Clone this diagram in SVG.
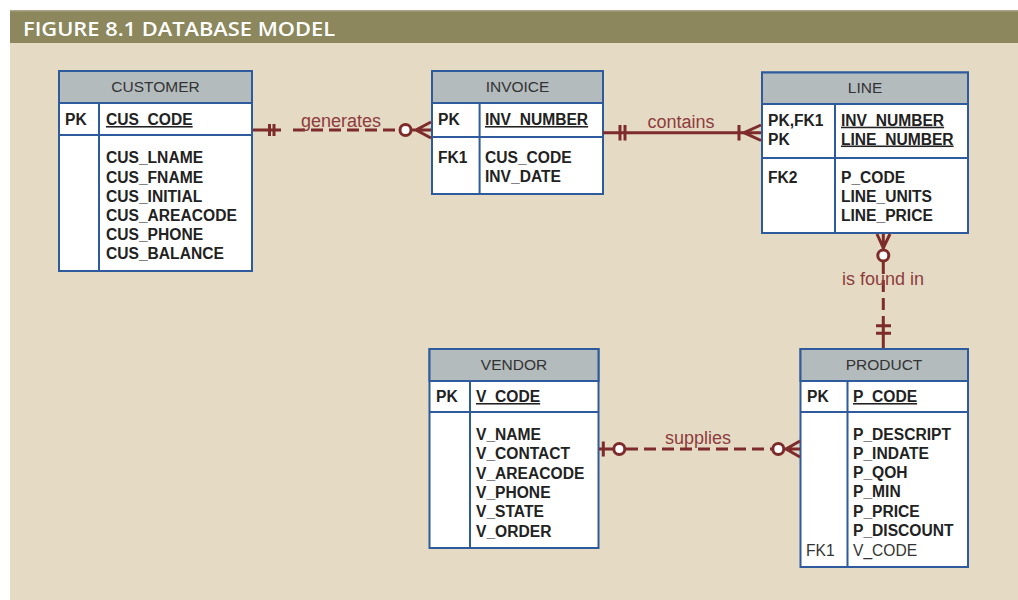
<svg xmlns="http://www.w3.org/2000/svg" width="1018" height="600" viewBox="0 0 1018 600">
<style>
.box{fill:#ffffff;stroke:#2d5b9e;stroke-width:2}
.hdr{fill:#b3bbbd;stroke:#2d5b9e;stroke-width:2}
.div{stroke:#2d5b9e;stroke-width:2;fill:none}
.ttl{font-family:"Liberation Sans",Arial,sans-serif;font-size:15.5px;fill:#333;text-anchor:middle}
.f{font-family:"Liberation Sans",Arial,sans-serif;font-size:15.6px;font-weight:bold;fill:#222}
.r{font-family:"Liberation Sans",Arial,sans-serif;font-size:15.6px;fill:#333}
.u{text-decoration:underline}
.c{stroke:#7d2b2b;stroke-width:3;fill:none}
.d{stroke-dasharray:12 6}
.ci{stroke:#7d2b2b;stroke-width:3;fill:#ffffff}
.lbl{font-family:"Liberation Sans",Arial,sans-serif;font-size:18px;fill:#8e3b3e;text-anchor:middle}
</style>
<rect x="10" y="43" width="1008" height="557" fill="#e5dbc4"/>
<rect x="10" y="10" width="1008" height="33" fill="#8c875c"/>
<rect x="10" y="10" width="1008" height="1.5" fill="#a9a486"/>
<text x="23" y="36" font-family="'Open Sans','Liberation Sans',sans-serif" font-size="20.5" font-weight="600" fill="#ffffff" textLength="312" lengthAdjust="spacingAndGlyphs">FIGURE 8.1  DATABASE MODEL</text>

<g id="customer">
<rect class="box" x="59" y="71" width="193" height="200"/>
<rect class="hdr" x="59" y="71" width="193" height="32"/>
<path class="div" d="M59 135H252M99 103V271"/>
<text class="ttl" x="155.5" y="92">CUSTOMER</text>
<text class="f" x="65" y="125">PK</text>
<text class="f u" x="106" y="125">CUS_CODE</text>
<text class="f" x="106" y="163.3">CUS_LNAME</text>
<text class="f" x="106" y="182.5">CUS_FNAME</text>
<text class="f" x="106" y="201.7">CUS_INITIAL</text>
<text class="f" x="106" y="220.9">CUS_AREACODE</text>
<text class="f" x="106" y="240.1">CUS_PHONE</text>
<text class="f" x="106" y="259.3">CUS_BALANCE</text>
</g>

<g id="invoice">
<rect class="box" x="432" y="71" width="171" height="123"/>
<rect class="hdr" x="432" y="71" width="171" height="32"/>
<path class="div" d="M432 137H603M479.6 103V194"/>
<text class="ttl" x="517.5" y="92">INVOICE</text>
<text class="f" x="438" y="125">PK</text>
<text class="f u" x="485" y="125">INV_NUMBER</text>
<text class="f" x="438" y="163">FK1</text>
<text class="f" x="485" y="163">CUS_CODE</text>
<text class="f" x="485" y="182.2">INV_DATE</text>
</g>

<g id="line">
<rect class="box" x="762" y="72.5" width="206" height="160.5"/>
<rect class="hdr" x="762" y="72.5" width="206" height="31.5"/>
<path class="div" d="M762 158H968M835 104V233"/>
<text class="ttl" x="865" y="93">LINE</text>
<text class="f" x="768" y="125.7">PK,FK1</text>
<text class="f" x="768" y="144.5">PK</text>
<text class="f u" x="841" y="125.7">INV_NUMBER</text>
<text class="f u" x="841" y="144.5">LINE_NUMBER</text>
<text class="f" x="768" y="183">FK2</text>
<text class="f" x="841" y="183">P_CODE</text>
<text class="f" x="841" y="202.2">LINE_UNITS</text>
<text class="f" x="841" y="221.4">LINE_PRICE</text>
</g>

<g id="vendor">
<rect class="box" x="429.5" y="349" width="169" height="199"/>
<rect class="hdr" x="429.5" y="349" width="169" height="32"/>
<path class="div" d="M429.5 412H598.5M470 381V548"/>
<text class="ttl" x="514" y="370">VENDOR</text>
<text class="f" x="436" y="402">PK</text>
<text class="f u" x="476" y="402">V_CODE</text>
<text class="f" x="476" y="440">V_NAME</text>
<text class="f" x="476" y="459.3">V_CONTACT</text>
<text class="f" x="476" y="478.6">V_AREACODE</text>
<text class="f" x="476" y="497.9">V_PHONE</text>
<text class="f" x="476" y="517.2">V_STATE</text>
<text class="f" x="476" y="536.5">V_ORDER</text>
</g>

<g id="product">
<rect class="box" x="800.5" y="349" width="167.5" height="218"/>
<rect class="hdr" x="800.5" y="349" width="167.5" height="32"/>
<path class="div" d="M800.5 412H968M847.5 381V567"/>
<text class="ttl" x="884" y="370">PRODUCT</text>
<text class="f" x="807" y="402">PK</text>
<text class="f u" x="853" y="402">P_CODE</text>
<text class="f" x="853" y="439.5">P_DESCRIPT</text>
<text class="f" x="853" y="458.8">P_INDATE</text>
<text class="f" x="853" y="478.1">P_QOH</text>
<text class="f" x="853" y="497.4">P_MIN</text>
<text class="f" x="853" y="516.7">P_PRICE</text>
<text class="f" x="853" y="536">P_DISCOUNT</text>
<text class="r" x="806" y="555.5">FK1</text>
<text class="r" x="853" y="555.5">V_CODE</text>
</g>

<g id="connectors">
<!-- generates -->
<path class="c" d="M253 130H281M269.5 124V136M274 124V136"/>
<path class="c d" d="M293 130H400"/>
<circle class="ci" cx="405.5" cy="130" r="5.5"/>
<path class="c" d="M431 122L416 130L431 138M411 130H431"/>
<text class="lbl" x="341" y="127">generates</text>
<!-- contains -->
<path class="c" d="M603 132.7H761M620 125V140.5M625 125V140.5M739 125V140.5"/>
<path class="c" d="M761 125L744 132.7L761 140.5"/>
<text class="lbl" x="681" y="128">contains</text>
<!-- is found in -->
<path class="c" d="M877 234L883.3 248L890 234M883.3 234V249"/>
<circle class="ci" cx="883.3" cy="255.5" r="5.5"/>
<path class="c d" d="M883.3 262V318"/>
<path class="c" d="M883.3 318V348M876 325.7H891M876 333.3H891"/>
<text class="lbl" x="883" y="285">is found in</text>
<!-- supplies -->
<path class="c" d="M599 449H613M603.3 441.5V456.5"/>
<circle class="ci" cx="619.3" cy="449" r="5.5"/>
<path class="c d" d="M626 449H772"/>
<circle class="ci" cx="778.3" cy="449" r="5.5"/>
<path class="c" d="M800 441L786 449L800 457M784 449H800"/>
<text class="lbl" x="698" y="444">supplies</text>
</g>
</svg>
